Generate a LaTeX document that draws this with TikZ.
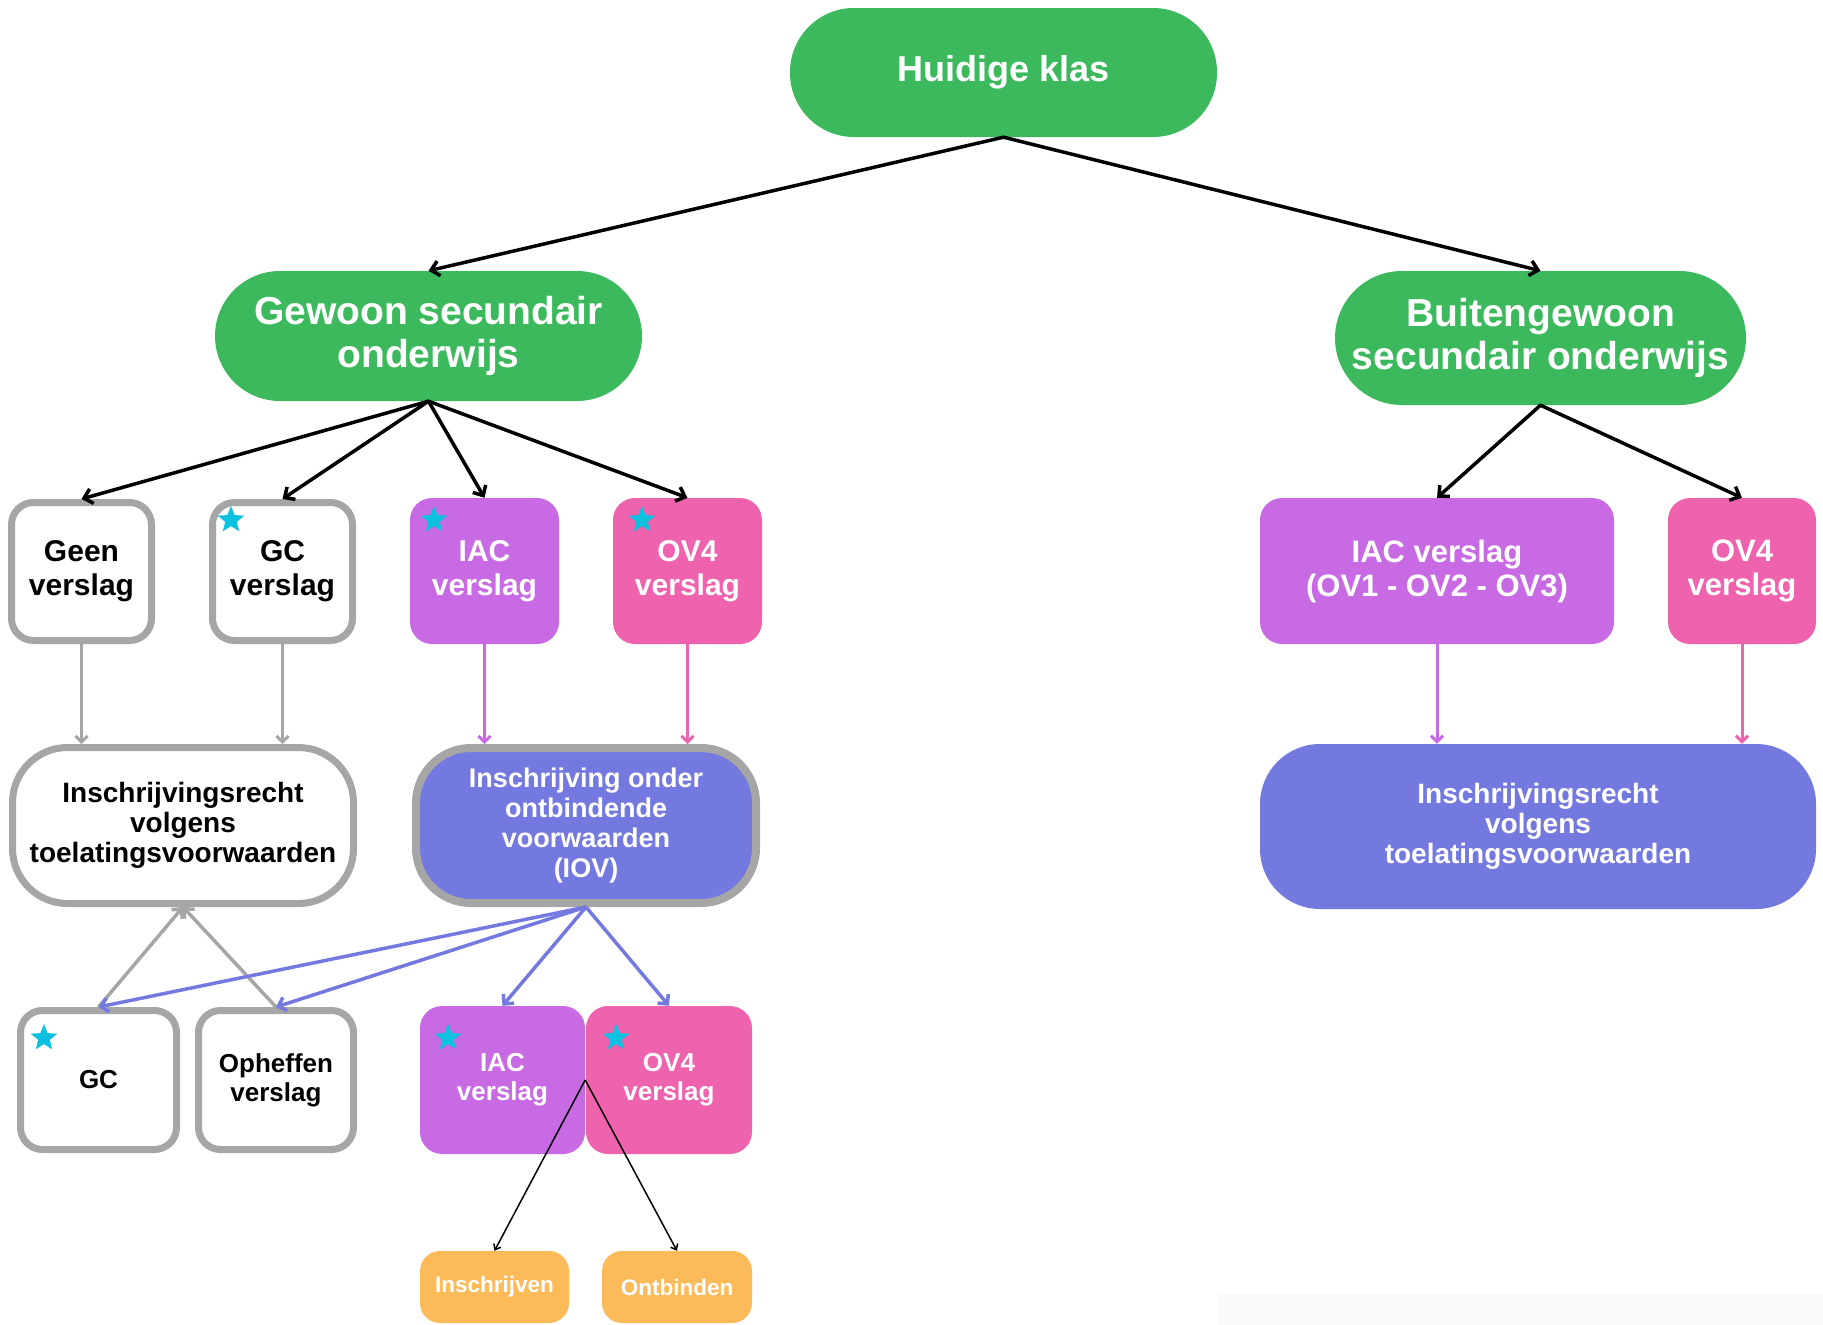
\documentclass[tikz,border=0pt]{standalone}
\usepackage{fontspec}
\setmainfont{Liberation Sans}
\usetikzlibrary{arrows.meta,shapes.geometric}
\definecolor{cgreen}{HTML}{3CB95D}
\definecolor{cpurple}{HTML}{C86AE4}
\definecolor{cpink}{HTML}{EE62AE}
\definecolor{cblue}{HTML}{7479E0}
\definecolor{cgray}{HTML}{A6A6A6}
\definecolor{ccyan}{HTML}{0CC0DF}
\definecolor{corange}{HTML}{FDBA59}
\definecolor{cfaint}{HTML}{FAFAFA}
\begin{document}
\begin{tikzpicture}[x=1pt,y=-1pt,
  pill/.style={fill=cgreen, text=white, inner sep=0pt, align=center},
  graybox/.style={draw=cgray, line width=7pt, fill=white, rounded corners=22pt, inner sep=0pt, align=center, text=black},
  colbox/.style={rounded corners=22pt, inner sep=0pt, align=center, text=white},
  f30/.style={font=\bfseries\fontsize{30}{34}\selectfont},
  f26/.style={font=\bfseries\fontsize{26}{29}\selectfont},
  f28/.style={font=\bfseries\fontsize{28}{30}\selectfont},
  starmark/.style={star, star points=5, star point ratio=2.3, fill=ccyan, minimum size=28pt, inner sep=0pt},
  blk/.style={draw=black, line width=3.5pt, -{Straight Barb[length=8pt,width=15pt]}, line cap=round},
  gline/.style={draw=cgray, line width=3pt, -{Straight Barb[length=6pt,width=12pt]}},
  pline/.style={draw=cpurple, line width=3pt, -{Straight Barb[length=6pt,width=12pt]}},
  kline/.style={draw=cpink, line width=3pt, -{Straight Barb[length=6pt,width=12pt]}},
  bline/.style={draw=cblue, line width=3.5pt, -{Straight Barb[length=7pt,width=14pt]}},
  gdiag/.style={draw=cgray, line width=3.5pt, -{Straight Barb[length=7pt,width=14pt]}},
  thin/.style={draw=black, line width=1.5pt, -{Straight Barb[length=5pt,width=8pt]}}
]
\useasboundingbox (0,0) rectangle (1823,1325);
\fill[cfaint] (1218,1294) rectangle (1823,1325);

% top level
\node[pill, rounded corners=64pt, minimum width=427pt, minimum height=129pt,
  font=\bfseries\fontsize{36}{43}\selectfont] (huidig) at (1003.5,72.5) {Huidige klas};
\node[pill, rounded corners=65pt, minimum width=427pt, minimum height=130pt,
  font=\bfseries\fontsize{39}{43}\selectfont] (gewoon) at (428.5,336) {Gewoon secundair\\onderwijs};
\node[pill, rounded corners=67pt, minimum width=411pt, minimum height=134pt,
  font=\bfseries\fontsize{39}{43}\selectfont] (buiten) at (1540.5,338) {Buitengewoon\\secundair onderwijs};

% row 2 left
\node[graybox, f30, minimum width=140pt, minimum height=138pt] (geen) at (81.5,571.5) {Geen\\verslag};
\node[graybox, f30, minimum width=140pt, minimum height=138pt] (gcv) at (282.5,571.5) {GC\\verslag};
\node[colbox, f30, fill=cpurple, minimum width=149pt, minimum height=146pt] (iac1) at (484.5,571) {IAC\\verslag};
\node[colbox, f30, fill=cpink, minimum width=149pt, minimum height=146pt] (ov41) at (687.5,571) {OV4\\verslag};
\node[starmark] (st1) at (231,520) {};
\node[starmark] (st2) at (434,520) {};
\node[starmark] (st3) at (642,520) {};

% row 2 right
\node[colbox, fill=cpurple, minimum width=354pt, minimum height=146pt,
  font=\bfseries\fontsize{31}{34}\selectfont] (iacR) at (1437,571) {IAC verslag\\(OV1 - OV2 - OV3)};
\node[colbox, fill=cpink, minimum width=148pt, minimum height=146pt,
  font=\bfseries\fontsize{31}{34}\selectfont] (ov4R) at (1742,571) {OV4\\verslag};

% row 3
\node[graybox, f28, rounded corners=55pt, minimum width=341pt, minimum height=156pt] (insL) at (183,825.5)
  {Inschrijvingsrecht\\volgens\\toelatingsvoorwaarden};
\node[draw=cgray, line width=8pt, fill=cblue, text=white, rounded corners=55pt, inner sep=0pt, align=center,
  font=\bfseries\fontsize{27}{30}\selectfont, minimum width=340pt, minimum height=155pt] (iov) at (586,825.5)
  {Inschrijving onder\\ontbindende\\voorwaarden\\(IOV)};
\node[colbox, f28, fill=cblue, rounded corners=60pt, minimum width=556pt, minimum height=165pt] (insR) at (1538,826.5)
  {Inschrijvingsrecht\\volgens\\toelatingsvoorwaarden};

% row 4
\node[graybox, f26, minimum width=156pt, minimum height=139pt] (gc2) at (98.5,1080) {GC};
\node[graybox, f26, minimum width=155pt, minimum height=139pt] (oph) at (276,1080) {Opheffen\\verslag};
\node[colbox, f26, fill=cpurple, minimum width=165pt, minimum height=148pt] (iac2) at (502.5,1080) {IAC\\verslag};
\node[colbox, f26, fill=cpink, minimum width=166pt, minimum height=148pt] (ov42) at (669,1080) {OV4\\verslag};
\node[starmark] (st4) at (44,1038) {};
\node[starmark] (st5) at (448,1038) {};
\node[starmark] (st6) at (616,1038) {};

% row 5
\node[colbox, fill=corange, rounded corners=20pt, minimum width=149pt, minimum height=72pt,
  font=\bfseries\fontsize{22.5}{26}\selectfont] (inschr) at (494.5,1287) {Inschrijven};
\node[colbox, fill=corange, rounded corners=20pt, minimum width=150pt, minimum height=72pt,
  font=\bfseries\fontsize{22.5}{26}\selectfont] (ontb) at (677,1287) {Ontbinden};

% connectors
\draw[blk] (huidig.south) -- (gewoon.north);
\draw[blk] (huidig.south) -- (buiten.north);
\draw[blk] (gewoon.south) -- (geen.north);
\draw[blk] (gewoon.south) -- (gcv.north);
\draw[blk] (gewoon.south) -- (iac1.north);
\draw[blk] (gewoon.south) -- (ov41.north);
\draw[blk] (buiten.south) -- (iacR.north);
\draw[blk] (buiten.south) -- (ov4R.north);

\draw[gline] (geen.south) -- (geen.south |- insL.north);
\draw[gline] (gcv.south) -- (gcv.south |- insL.north);
\draw[pline] (iac1.south) -- (iac1.south |- iov.north);
\draw[kline] (ov41.south) -- (ov41.south |- iov.north);
\draw[pline] (iacR.south) -- (iacR.south |- insR.north);
\draw[kline] (ov4R.south) -- (ov4R.south |- insR.north);

\draw[gdiag] (gc2.north) -- (insL.south);
\draw[gdiag] (oph.north) -- (insL.south);
\draw[bline] (iov.south) -- (gc2.north);
\draw[bline] (iov.south) -- (oph.north);
\draw[bline] (iov.south) -- (iac2.north);
\draw[bline] (iov.south) -- (ov42.north);

\draw[thin] (iac2.east) -- (inschr.north);
\draw[thin] (iac2.east) -- (ontb.north);
\end{tikzpicture}
\end{document}
